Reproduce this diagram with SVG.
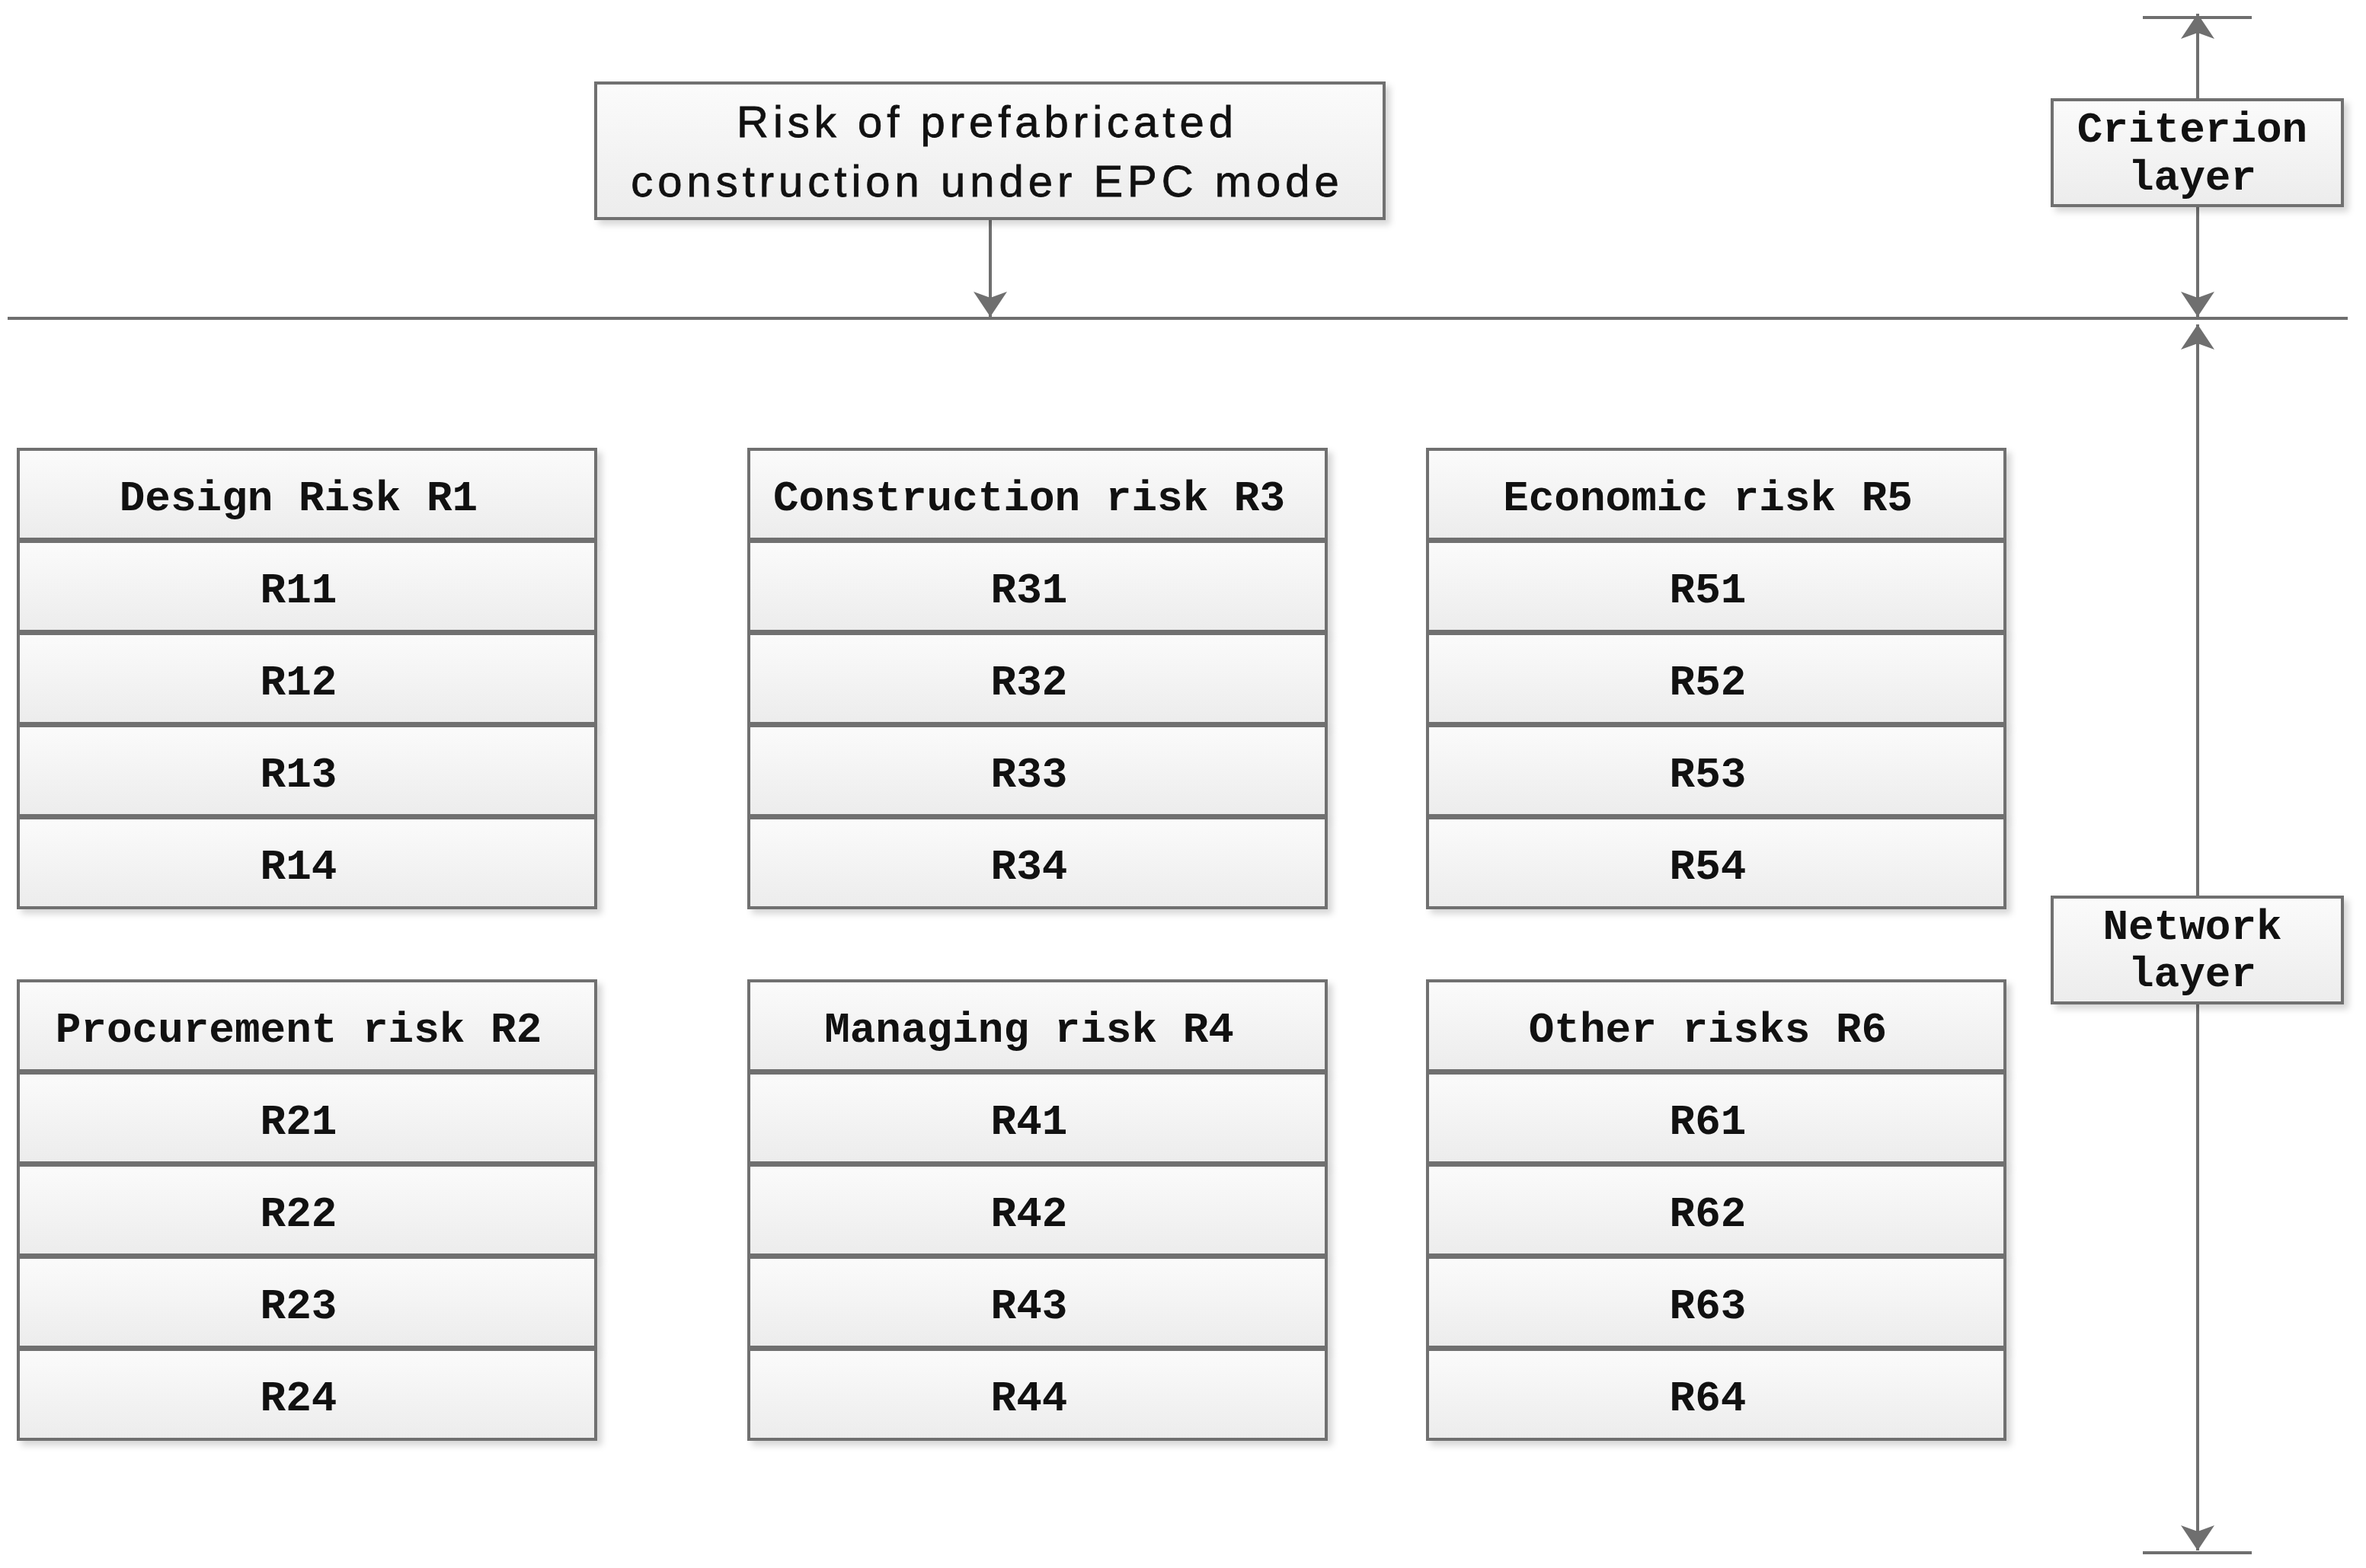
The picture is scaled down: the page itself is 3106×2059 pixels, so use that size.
<svg xmlns="http://www.w3.org/2000/svg" width="3106" height="2059" viewBox="0 0 3106 2059">
<style>
.box{fill:url(#g);stroke:#6f6f6f;stroke-width:4;filter:url(#sh)}
.t{font-family:"Liberation Mono","DejaVu Sans Mono",monospace;font-weight:bold;font-size:56px;fill:#111;text-anchor:middle}
.title{font-family:"Liberation Sans",Arial,sans-serif;font-size:58px;letter-spacing:6px;fill:#111;stroke:#111;stroke-width:0.8;text-anchor:middle}
.ln{stroke:#6f6f6f;stroke-width:4;fill:none}
</style>
<defs>
<linearGradient id="g" x1="0" y1="0" x2="0" y2="1">
<stop offset="0" stop-color="#fbfbfb"/><stop offset="1" stop-color="#ececec"/>
</linearGradient>
<filter id="sh" x="-5%" y="-5%" width="115%" height="130%">
<feDropShadow dx="6" dy="6" stdDeviation="4" flood-color="#000" flood-opacity="0.16"/>
</filter>
<marker id="ah" markerUnits="userSpaceOnUse" viewBox="-34 -23 36 46" refX="0" refY="0" markerWidth="36" markerHeight="46" orient="auto">
<path d="M0,0 L-33,-22 L-25,0 L-33,22 Z" fill="#6f6f6f"/>
</marker>
</defs>
<rect width="3106" height="2059" fill="#fff"/>

<g id="connectors">
<line class="ln" x1="10" y1="418" x2="3082" y2="418"/>
<line class="ln" x1="1300" y1="288" x2="1300" y2="416" marker-end="url(#ah)"/>
<line class="ln" x1="2813" y1="23" x2="2956" y2="23"/>
<line class="ln" x1="2885" y1="131" x2="2885" y2="18" marker-end="url(#ah)"/>
<line class="ln" x1="2885" y1="270" x2="2885" y2="416" marker-end="url(#ah)"/>
<line class="ln" x1="2885" y1="1178" x2="2885" y2="426" marker-end="url(#ah)"/>
<line class="ln" x1="2885" y1="1317" x2="2885" y2="2036" marker-end="url(#ah)"/>
<line class="ln" x1="2813" y1="2039" x2="2956" y2="2039"/>
</g>

<g id="root">
<rect class="box" x="782" y="109" width="1035" height="178"/>
<text class="title" x="1296" y="180">Risk of prefabricated</text>
<text class="title" x="1296" y="258">construction under EPC mode</text>
</g>

<g id="criterion">
<rect class="box" x="2694" y="131" width="381" height="139"/>
<text class="t" x="2878" y="186">Criterion</text>
<text class="t" x="2878" y="249">layer</text>
</g>

<g id="network">
<rect class="box" x="2694" y="1178" width="381" height="139"/>
<text class="t" x="2878" y="1233">Network</text>
<text class="t" x="2878" y="1295">layer</text>
</g>

<g id="R1">
<rect class="box" x="24" y="590" width="758" height="118"/><text class="t" x="392" y="670">Design Risk R1</text>
<rect class="box" x="24" y="711" width="758" height="118"/><text class="t" x="392" y="791">R11</text>
<rect class="box" x="24" y="832" width="758" height="118"/><text class="t" x="392" y="912">R12</text>
<rect class="box" x="24" y="953" width="758" height="118"/><text class="t" x="392" y="1033">R13</text>
<rect class="box" x="24" y="1074" width="758" height="118"/><text class="t" x="392" y="1154">R14</text>
</g>

<g id="R3">
<rect class="box" x="983" y="590" width="758" height="118"/><text class="t" x="1351" y="670">Construction risk R3</text>
<rect class="box" x="983" y="711" width="758" height="118"/><text class="t" x="1351" y="791">R31</text>
<rect class="box" x="983" y="832" width="758" height="118"/><text class="t" x="1351" y="912">R32</text>
<rect class="box" x="983" y="953" width="758" height="118"/><text class="t" x="1351" y="1033">R33</text>
<rect class="box" x="983" y="1074" width="758" height="118"/><text class="t" x="1351" y="1154">R34</text>
</g>

<g id="R5">
<rect class="box" x="1874" y="590" width="758" height="118"/><text class="t" x="2242" y="670">Economic risk R5</text>
<rect class="box" x="1874" y="711" width="758" height="118"/><text class="t" x="2242" y="791">R51</text>
<rect class="box" x="1874" y="832" width="758" height="118"/><text class="t" x="2242" y="912">R52</text>
<rect class="box" x="1874" y="953" width="758" height="118"/><text class="t" x="2242" y="1033">R53</text>
<rect class="box" x="1874" y="1074" width="758" height="118"/><text class="t" x="2242" y="1154">R54</text>
</g>

<g id="R2">
<rect class="box" x="24" y="1288" width="758" height="118"/><text class="t" x="392" y="1368">Procurement risk R2</text>
<rect class="box" x="24" y="1409" width="758" height="118"/><text class="t" x="392" y="1489">R21</text>
<rect class="box" x="24" y="1530" width="758" height="118"/><text class="t" x="392" y="1610">R22</text>
<rect class="box" x="24" y="1651" width="758" height="118"/><text class="t" x="392" y="1731">R23</text>
<rect class="box" x="24" y="1772" width="758" height="118"/><text class="t" x="392" y="1852">R24</text>
</g>

<g id="R4">
<rect class="box" x="983" y="1288" width="758" height="118"/><text class="t" x="1351" y="1368">Managing risk R4</text>
<rect class="box" x="983" y="1409" width="758" height="118"/><text class="t" x="1351" y="1489">R41</text>
<rect class="box" x="983" y="1530" width="758" height="118"/><text class="t" x="1351" y="1610">R42</text>
<rect class="box" x="983" y="1651" width="758" height="118"/><text class="t" x="1351" y="1731">R43</text>
<rect class="box" x="983" y="1772" width="758" height="118"/><text class="t" x="1351" y="1852">R44</text>
</g>

<g id="R6">
<rect class="box" x="1874" y="1288" width="758" height="118"/><text class="t" x="2242" y="1368">Other risks R6</text>
<rect class="box" x="1874" y="1409" width="758" height="118"/><text class="t" x="2242" y="1489">R61</text>
<rect class="box" x="1874" y="1530" width="758" height="118"/><text class="t" x="2242" y="1610">R62</text>
<rect class="box" x="1874" y="1651" width="758" height="118"/><text class="t" x="2242" y="1731">R63</text>
<rect class="box" x="1874" y="1772" width="758" height="118"/><text class="t" x="2242" y="1852">R64</text>
</g>
</svg>
